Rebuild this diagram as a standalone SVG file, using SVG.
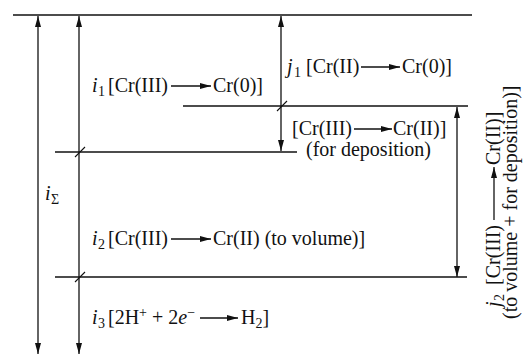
<svg xmlns="http://www.w3.org/2000/svg" width="524" height="355" viewBox="0 0 524 355">
<defs>
<style>
.ln{stroke:#111;stroke-width:1.3;fill:none}
.ar{stroke:#111;stroke-width:1.3;fill:none;marker-end:url(#ah)}
.dar{stroke:#111;stroke-width:1.3;fill:none;marker-start:url(#ah);marker-end:url(#ah)}
.tk{stroke:#111;stroke-width:1.1;fill:none}
text{font-family:"Liberation Serif","Times New Roman",serif;font-size:20px;fill:#111}
.it{font-style:italic}
.sb{font-size:14px}
</style>
<marker id="ah" viewBox="0 0 11 6" refX="11" refY="3" markerWidth="11" markerHeight="6" markerUnits="userSpaceOnUse" orient="auto-start-reverse">
<path d="M0,0 L11,3 L0,6 z" fill="#111"/>
</marker>
</defs>
<rect width="524" height="355" fill="#fff"/>
<g id="connectors">
<line class="ln" x1="13" y1="15" x2="472" y2="15"/>
<line class="ln" x1="183" y1="106" x2="468" y2="106"/>
<line class="ln" x1="55" y1="152" x2="297" y2="152"/>
<line class="ln" x1="55" y1="277" x2="467" y2="277"/>
<line class="dar" x1="38" y1="16" x2="38" y2="354"/>
<line class="dar" x1="79" y1="16" x2="79" y2="354"/>
<line class="dar" x1="281" y1="16" x2="281" y2="151"/>
<line class="dar" x1="457" y1="107" x2="457" y2="277"/>
<line class="tk" x1="75" y1="157" x2="85" y2="147"/>
<line class="tk" x1="75" y1="282" x2="85" y2="272"/>
<line class="tk" x1="277" y1="111" x2="287" y2="101"/>
</g>
<g id="i-sigma">
<text x="45" y="200" class="it">i</text><text x="51" y="204" class="sb">Σ</text>
</g>
<g id="i1">
<text x="92" y="92" class="it">i</text><text x="98" y="96" class="sb">1</text>
<text x="108" y="92">[Cr(III)</text>
<line class="ar" x1="171" y1="86" x2="211" y2="86"/>
<text x="213" y="92">Cr(0)]</text>
</g>
<g id="j1">
<text x="287" y="73" class="it">j</text><text x="294" y="77" class="sb">1</text>
<text x="306" y="73">[Cr(II)</text>
<line class="ar" x1="361" y1="67" x2="400" y2="67"/>
<text x="402" y="73">Cr(0)]</text>
</g>
<g id="deposition">
<text x="292" y="135">[Cr(III)</text>
<line class="ar" x1="354" y1="129" x2="392" y2="129"/>
<text x="393" y="135">Cr(II)]</text>
<text x="306" y="156">(for deposition)</text>
</g>
<g id="i2">
<text x="92" y="245" class="it">i</text><text x="98" y="249" class="sb">2</text>
<text x="108" y="245">[Cr(III)</text>
<line class="ar" x1="171" y1="239" x2="211" y2="239"/>
<text x="213" y="245">Cr(II) (to volume)]</text>
</g>
<g id="i3">
<text x="92" y="324" class="it">i</text><text x="98" y="328" class="sb">3</text>
<text x="108" y="324">[2H<tspan class="sb" dy="-7">+</tspan><tspan dy="7"> + 2</tspan><tspan class="it">e</tspan><tspan class="sb" dy="-7">−</tspan></text>
<line class="ar" x1="200" y1="318" x2="238" y2="318"/>
<text x="241" y="324">H<tspan class="sb" dy="4">2</tspan><tspan dy="-4">]</tspan></text>
</g>
<g id="j2">
<g transform="translate(500,307) rotate(-90)">
<text x="0" y="0" class="it">j</text><text x="6" y="4" class="sb">2</text>
<text x="22" y="0">[Cr(III)</text>
<line class="ar" x1="87" y1="-6" x2="140" y2="-6"/>
<text x="142" y="0">Cr(II)]</text>
</g>
<text transform="translate(517,319) rotate(-90)" x="0" y="0">(to volume + for deposition)]</text>
</g>
</svg>
